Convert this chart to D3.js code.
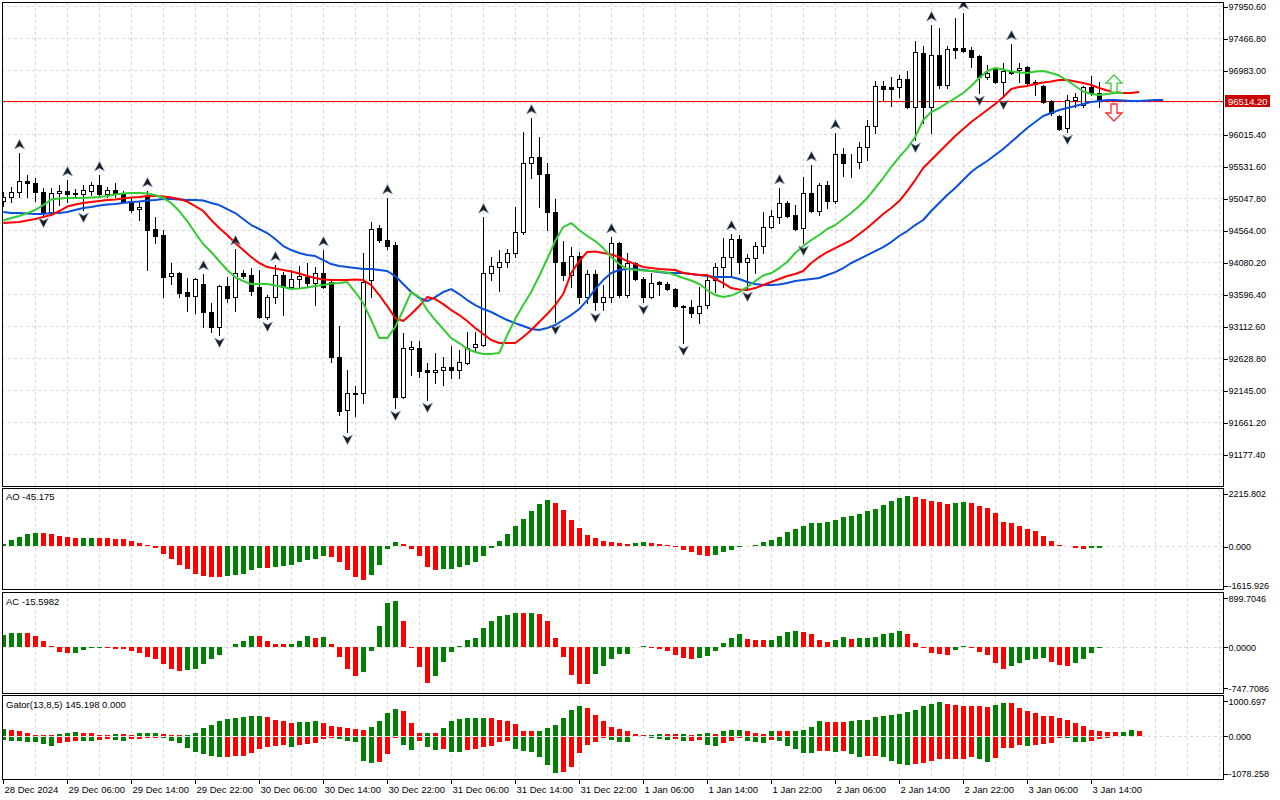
<!DOCTYPE html>
<html>
<head>
<meta charset="utf-8">
<script src="https://cdn.jsdelivr.net/npm/d3@7"></script>
<style>
  html, body { margin: 0; padding: 0; background: #fff; }
  svg { display: block; font-family: "Liberation Sans", Arial, sans-serif; }
</style>
</head>
<body>
<svg id="chart" width="1280" height="800"></svg>
<script>
// H1 candles, 28 Dec 22:00 .. 3 Jan 15:00
const open = [
  95002,95062,95138,95304,95274,95138,94836,95123,95153,95123,
  95108,95153,95244,95108,95168,95123,95002,94881,95093,94579,
  94488,93868,93913,93626,93565,93747,93324,93097,93717,93550,
  93913,93883,93702,93248,93550,93883,93702,93823,93853,93762,
  93913,93777,92643,91842,92084,92099,93807,94594,94412,94337,
  92038,92764,92779,92447,92416,92447,92492,92447,92552,92794,
  92825,93913,94004,94080,94216,94533,95576,95667,95410,94836,
  94080,93883,94170,93550,93898,93475,93550,94367,93581,94065,
  93823,93550,93777,93747,93671,93414,93399,93308,93429,93807,
  94004,94155,94427,94080,94140,94321,94609,94760,94972,94790,
  94594,95123,94851,95244,95002,95713,95592,95592,95818,96136,
  96741,96726,96726,96847,96423,97240,96423,97209,96756,97315,
  97315,97285,97194,96877,97013,96801,96968,96983,97028,96801,
  96741,96514,96287,96106,96529,96453,96726,96635
];
const high = [
  95138,95214,95728,95395,95350,95198,95198,95244,95319,95183,
  95244,95289,95395,95214,95274,95153,95062,94987,95153,94760,
  94563,94065,93928,93838,93838,93898,93460,93732,93853,94276,
  93959,93989,93959,93581,94034,93928,93959,94019,94065,94004,
  94261,93807,93112,92447,92205,94216,94684,94639,95047,94382,
  93006,92885,92885,92552,92704,92643,92809,92749,93021,93021,
  94760,94155,94261,94276,94911,96045,96257,95970,95576,95032,
  94397,94306,94231,93959,93959,93732,94458,94382,94216,94080,
  93853,93913,93792,93777,93686,93429,93505,93702,93853,94065,
  94442,94503,94488,94201,94382,94836,94866,95198,95002,94941,
  95365,95546,95274,95304,96030,95803,95713,95894,96227,96816,
  96816,96877,96907,96968,97421,97346,97663,97618,97346,97769,
  97844,97330,97209,97058,97028,97088,97376,97088,97043,96831,
  96756,96529,96302,96605,96635,96741,96892,96801
];
const low = [
  94926,94987,95062,95062,95002,94790,94820,94941,94987,95047,
  94866,95093,95062,95062,95062,94972,94836,94715,93959,94367,
  93550,93747,93550,93339,93308,93097,93021,92976,93475,93339,
  93838,93581,93233,93218,93460,93278,93686,93686,93702,93429,
  93686,92567,91766,91509,91751,91948,93550,94382,94276,91872,
  92023,92371,92341,91993,92250,92220,92326,92326,92537,92719,
  92809,93807,93641,94004,94155,94503,95350,94911,94563,93172,
  93807,93702,93460,93460,93354,93354,93475,93550,93550,93807,
  93475,93535,93581,93656,93399,92855,93248,93157,93384,93626,
  93702,93883,93913,93671,93913,94216,94594,94669,94760,94563,
  94367,94836,94790,94896,94972,95380,95365,95501,95622,96030,
  96529,96438,96574,96408,95924,96181,96030,96710,96710,97164,
  97255,97028,96635,96847,96786,96574,96922,96801,96756,96605,
  96484,96302,96075,96045,96423,96423,96605,96423
];
const close = [
  95062,95138,95304,95274,95138,94820,95123,95153,95108,95108,
  95168,95244,95108,95168,95123,94987,94866,94911,94563,94473,
  93853,93913,93611,93565,93823,93324,93097,93717,93535,93913,
  93868,93641,93248,93550,93883,93702,93823,93868,93762,93913,
  93702,92643,91827,92099,92099,93777,94579,94412,94321,92038,
  92779,92794,92431,92416,92447,92492,92447,92567,92779,92840,
  93913,94019,94080,94216,94533,95576,95667,95410,94836,94080,
  93883,94170,93550,93898,93475,93550,94367,93581,94065,93823,
  93550,93762,93747,93671,93414,93399,93308,93414,93807,94004,
  94155,94427,94080,94140,94321,94609,94775,94972,94775,94579,
  95123,94851,95244,95002,95713,95576,95590,95818,96136,96741,
  96695,96695,96847,96423,97255,96423,97209,96756,97300,97285,
  97270,97179,96877,96937,96801,96968,96937,97013,96786,96771,
  96499,96332,96091,96529,96574,96726,96635,96514.2
];

// Alligator lines, already shifted forward (jaw +8, teeth +5, lips +3)
const jaw = [
  94836,94820,94820,94813,94805,94805,94820,94820,94836,94866,
  94896,94911,94934,94949,94957,94972,94987,94994,95009,95017,
  95032,95032,95025,95017,95017,95009,94972,94941,94881,94820,
  94730,94639,94579,94518,94427,94321,94261,94216,94185,94170,
  94110,94049,94019,94004,93989,93974,93974,93959,93944,93868,
  93747,93626,93535,93490,93550,93626,93671,93596,93505,93429,
  93369,93324,93263,93203,93157,93112,93067,93051,93082,93127,
  93203,93278,93369,93505,93671,93807,93913,93959,93974,93974,
  93959,93944,93928,93913,93913,93913,93898,93883,93868,93853,
  93853,93853,93823,93777,93747,93732,93732,93739,93762,93792,
  93807,93823,93838,93883,93928,93989,94065,94125,94185,94246,
  94306,94382,94473,94548,94639,94715,94851,94972,95093,95198,
  95319,95440,95531,95607,95697,95788,95894,96000,96106,96196,
  96287,96332,96378,96408,96438,96469,96499,96514,96529,96529,
  96521,96514,96514,96521,96529,96529
];
const teeth = [
  94669,94677,94684,94707,94730,94760,94790,94851,94919,94949,
  94972,94987,95002,95017,95025,95040,95055,95062,95078,95078,
  95070,95055,95032,94994,94926,94851,94715,94594,94488,94367,
  94261,94155,94065,94004,93981,93959,93936,93906,93868,93838,
  93815,93807,93807,93807,93815,93807,93732,93581,93414,93233,
  93188,93293,93414,93550,93520,93444,93354,93278,93188,93082,
  92991,92900,92855,92855,92855,92946,93051,93172,93293,93429,
  93596,93913,94095,94231,94238,94216,94193,94155,94095,94049,
  94004,93989,93974,93966,93959,93913,93898,93883,93883,93823,
  93762,93686,93664,93656,93686,93732,93777,93823,93868,93898,
  93944,94065,94155,94231,94291,94352,94412,94503,94594,94699,
  94805,94896,95002,95153,95319,95501,95622,95743,95864,95985,
  96091,96196,96287,96378,96469,96574,96695,96726,96741,96771,
  96794,96809,96831,96831,96809,96786,96756,96710,96673,96650,
  96635,96635,96650
];
const lips = [
  94707,94745,94775,94820,94866,94941,95025,95040,95047,95047,
  95047,95055,95062,95078,95100,95115,95123,95123,95115,95093,
  95047,94972,94851,94700,94518,94352,94231,94095,93959,93853,
  93792,93747,93747,93747,93724,93702,93671,93679,93694,93717,
  93732,93754,93762,93777,93626,93460,93203,92930,92930,93097,
  93354,93626,93550,93354,93203,93067,92930,92855,92764,92719,
  92689,92689,92704,92976,93218,93429,93626,93868,94125,94397,
  94609,94669,94563,94473,94397,94291,94155,94049,93974,93959,
  93951,93944,93936,93921,93883,93838,93800,93747,93656,93581,
  93550,93573,93626,93702,93792,93876,93913,93989,94080,94216,
  94321,94412,94488,94579,94639,94730,94820,94926,95047,95198,
  95350,95516,95667,95803,95970,96227,96348,96408,96484,96559,
  96635,96741,96862,96968,97013,96990,96960,96945,96937,96960,
  96968,96937,96899,96824,96741,96658,96620,96605,96620,96635,
  96635
];

// Bill Williams fractals (bar indexes)
const fractalUp = [2,8,12,18,25,29,34,40,48,60,66,76,91,97,101,104,116,120,126];
const fractalDown = [5,10,27,33,43,49,53,69,74,80,85,93,100,114,122,125,133];

// signal arrows at the right edge
const signalBar = 139;
const signalBuyPrice = 96650;
const signalSellPrice = 96469;

const bidPrice = 96514.20;

const ao = [
  111,276,412,523,577,575,523,441,383,342,
  345,348,345,342,318,315,235,136,54,-70,
  -301,-507,-754,-919,-1125,-1207,-1277,-1280,-1236,-1166,
  -1125,-960,-894,-900,-865,-812,-783,-659,-548,-507,
  -383,-453,-659,-989,-1277,-1401,-1166,-754,-111,194,
  111,-111,-412,-865,-960,-919,-915,-865,-754,-659,
  -383,-70,235,523,853,1141,1471,1759,1924,1813,
  1512,1100,754,482,342,235,194,136,111,165,
  194,136,111,70,-29,-165,-247,-371,-412,-342,
  -247,-136,-29,41,70,194,276,412,618,729,
  865,960,989,1030,1100,1236,1277,1347,1471,1553,
  1718,1883,2019,2101,2060,1965,1883,1825,1759,1784,
  1842,1784,1689,1578,1372,1030,960,865,729,647,
  441,235,70,29,-54,-95,-60,-45.175
];
const ac = [
  225,256,260,254,201,104,18,-97,-110,-104,
  -49,-18,-12,-16,-31,-33,-73,-110,-183,-225,
  -306,-397,-445,-426,-408,-306,-214,-152,-5,49,
  104,196,194,104,60,49,60,115,196,159,
  177,49,-183,-408,-531,-458,-73,379,811,836,
  470,-18,-366,-659,-531,-275,-92,18,123,165,
  348,470,562,580,628,617,628,598,470,159,
  -183,-518,-683,-685,-500,-353,-225,-134,-123,-5,
  18,-13,-37,-79,-152,-201,-225,-201,-170,-73,
  79,170,232,152,134,132,134,196,269,287,
  269,232,134,86,134,183,141,165,167,183,
  243,262,287,232,79,-24,-110,-123,-141,-49,
  13,-13,-92,-141,-293,-408,-348,-293,-243,-225,
  -201,-275,-335,-348,-293,-225,-110,-15.5982
];
const gatorUpper = [
  192,172,143,77,29,26,9,49,77,114,
  66,63,29,23,49,46,29,77,79,86,
  49,29,9,14,77,220,306,409,478,506,
  543,552,563,523,449,429,363,400,403,406,
  363,286,257,229,200,172,257,429,649,764,
  695,363,77,80,66,220,429,466,506,509,
  512,495,458,409,335,143,134,143,220,315,
  506,744,858,792,592,429,257,192,143,49,
  14,29,49,46,43,46,29,57,63,43,
  143,172,174,123,86,43,143,132,123,126,
  172,257,406,400,398,395,429,458,460,523,
  572,592,629,666,744,858,915,952,907,887,
  858,855,852,809,887,924,921,792,715,638,
  572,552,495,438,352,266,172,123,114,106,
  114,172,145.198
];
const gatorLower = [
  -94,-114,-117,-143,-163,-220,-257,-192,-143,-114,
  -117,-120,-94,-66,-94,-114,-77,-66,-49,-29,
  -49,-123,-192,-315,-449,-506,-566,-572,-569,-566,
  -563,-458,-352,-306,-266,-237,-306,-237,-209,-172,
  -77,-49,-77,-123,-143,-695,-764,-715,-506,-49,
  -237,-380,-123,-306,-380,-363,-449,-452,-380,-363,
  -306,-266,-163,-114,-363,-409,-449,-572,-809,-1050,
  -1001,-858,-478,-237,-143,-49,-94,-143,-157,-14,
  -20,-43,-57,-94,-57,-123,-120,-100,-237,-266,
  -192,-123,-29,-123,-163,-192,-94,-114,-257,-363,
  -458,-460,-400,-398,-429,-400,-495,-572,-543,-541,
  -572,-686,-792,-809,-792,-744,-686,-638,-635,-632,
  -629,-572,-649,-715,-621,-335,-332,-249,-257,-237,
  -220,-192,-49,-51,-143,-163,-123,-66,-29,-9,
  -20,0,0
];

const priceTicks = [97950.60, 97466.80, 96983.00, 96499.20, 96015.40, 95531.60, 95047.80,
  94564.00, 94080.20, 93596.40, 93112.60, 92628.80, 92145.00, 91661.20, 91177.40];
const timeTickBars = [0,8,16,24,32,40,48,56,64,72,80,88,96,104,112,120,128,136];
const timeLabels = ["28 Dec 2024","29 Dec 06:00","29 Dec 14:00","29 Dec 22:00","30 Dec 06:00",
  "30 Dec 14:00","30 Dec 22:00","31 Dec 06:00","31 Dec 14:00","31 Dec 22:00","1 Jan 06:00",
  "1 Jan 14:00","1 Jan 22:00","2 Jan 06:00","2 Jan 14:00","2 Jan 22:00","3 Jan 06:00","3 Jan 14:00"];

// layout
const left = 2, right = 1223;
const panels = {
  main:  { top: 2,   bottom: 486 },
  ao:    { top: 488, bottom: 589 },
  ac:    { top: 592, bottom: 693 },
  gator: { top: 695, bottom: 779 }
};
const green = "#008000", red = "#ff0000";
const gridColor = "#d9d9d9";

const svg = d3.select("#chart");

const x = d3.scaleLinear().domain([0, 152]).range([2.7, 2.7 + 8 * 152]);
const cx = i => Math.round(x(i));

const yMain = d3.scaleLinear().domain([91177.4, 97950.6]).range([454, 6]);
const yAO = d3.scaleLinear().domain([-1615.926, 2215.802]).range([585.5, 493]);
const yAC = d3.scaleLinear().domain([-747.7086, 899.7046]).range([687.7, 597.7]);
const yGator = d3.scaleLinear().domain([-1078.258, 1000.697]).range([773.3, 700.7]);

// clip paths per panel
const defs = svg.append("defs");
Object.entries(panels).forEach(([k, p]) => {
  defs.append("clipPath").attr("id", "clip-" + k)
    .append("rect").attr("x", left).attr("y", p.top)
    .attr("width", right - left).attr("height", p.bottom - p.top);
});

// vertical grid in every panel
const gridBars = d3.range(4, 153, 4);
Object.values(panels).forEach(p => {
  svg.append("g").selectAll("line").data(gridBars).enter().append("line")
    .attr("x1", i => cx(i) + 0.5).attr("x2", i => cx(i) + 0.5)
    .attr("y1", p.top).attr("y2", p.bottom)
    .attr("stroke", gridColor).attr("stroke-dasharray", "3,3")
    .attr("shape-rendering", "crispEdges");
});

// horizontal grid, main panel
svg.append("g").selectAll("line").data(priceTicks).enter().append("line")
  .attr("x1", left).attr("x2", right)
  .attr("y1", d => Math.round(yMain(d)) + 0.5).attr("y2", d => Math.round(yMain(d)) + 0.5)
  .attr("stroke", gridColor).attr("stroke-dasharray", "3,3")
  .attr("shape-rendering", "crispEdges");

// zero lines in the indicator panels
[yAO, yAC, yGator].forEach(s => {
  svg.append("line")
    .attr("x1", left).attr("x2", right)
    .attr("y1", Math.round(s(0)) + 0.5).attr("y2", Math.round(s(0)) + 0.5)
    .attr("stroke", gridColor).attr("stroke-dasharray", "3,3")
    .attr("shape-rendering", "crispEdges");
});

// ---------- main panel ----------
const main = svg.append("g").attr("clip-path", "url(#clip-main)");

// bid line (behind the candles)
main.append("rect")
  .attr("x", left).attr("width", right - left)
  .attr("y", Math.round(yMain(bidPrice))).attr("height", 1)
  .attr("fill", "#ff0000");

const bars = d3.range(open.length);
main.append("g").selectAll("line").data(bars).enter().append("line")
  .attr("x1", i => cx(i) + 0.5).attr("x2", i => cx(i) + 0.5)
  .attr("y1", i => Math.round(yMain(high[i]))).attr("y2", i => Math.round(yMain(low[i])) + 1)
  .attr("stroke", "#000").attr("shape-rendering", "crispEdges");

main.append("g").selectAll("rect").data(bars).enter().append("rect")
  .attr("x", i => cx(i) - 1.5)
  .attr("width", 4)
  .attr("y", i => Math.round(yMain(Math.max(open[i], close[i]))) + 0.5)
  .attr("height", i => Math.max(0, Math.round(Math.abs(yMain(open[i]) - yMain(close[i])))))
  .attr("fill", i => close[i] >= open[i] ? "#fff" : "#000")
  .attr("stroke", "#000").attr("shape-rendering", "crispEdges");

// alligator
const lineOf = s => d3.line().x((d, i) => x(i) + 0.5).y(d => yMain(d))(s);
[[jaw, "#0a50dc"], [teeth, "#ff0000"], [lips, "#33cc33"]].forEach(([s, c]) => {
  main.append("path").attr("d", lineOf(s))
    .attr("fill", "none").attr("stroke", c).attr("stroke-width", 2)
    .attr("stroke-linejoin", "round");
});

// fractals
main.append("g").selectAll("path").data(fractalUp).enter().append("path")
  .attr("d", "M0,-9.5 L5,0 L0,-2.8 L-5,0 Z")
  .attr("transform", i => `translate(${cx(i) + 0.5},${yMain(high[i]) - 4})`)
  .attr("fill", "#1b1b1b").attr("stroke", "#7d9cc4").attr("stroke-width", 0.6);
main.append("g").selectAll("path").data(fractalDown).enter().append("path")
  .attr("d", "M0,9.5 L5,0 L0,2.8 L-5,0 Z")
  .attr("transform", i => `translate(${cx(i) + 0.5},${yMain(low[i]) + 3})`)
  .attr("fill", "#1b1b1b").attr("stroke", "#7d9cc4").attr("stroke-width", 0.6);

// signal arrows
main.append("path")
  .attr("d", "M0,-17 L8,-9 L3,-9 L3,0 L-3,0 L-3,-9 L-8,-9 Z")
  .attr("transform", `translate(${cx(signalBar) - 1},${yMain(signalBuyPrice)})`)
  .attr("fill", "#fff").attr("stroke", "#3cc83c").attr("stroke-width", 1.3);
main.append("path")
  .attr("d", "M0,17 L8,9 L3,9 L3,0 L-3,0 L-3,9 L-8,9 Z")
  .attr("transform", `translate(${cx(signalBar) - 1},${yMain(signalSellPrice)})`)
  .attr("fill", "#fff").attr("stroke", "#ff2a2a").attr("stroke-width", 1.3);

// ---------- histograms ----------
// AO / AC: green when the bar is higher than the previous one
function oscillator(key, values, scale) {
  const g = svg.append("g").attr("clip-path", `url(#clip-${key})`);
  const z = Math.round(scale(0));
  g.selectAll("rect").data(values).enter().append("rect")
    .attr("x", (d, i) => cx(i) - 2)
    .attr("width", 5)
    .attr("y", d => d >= 0 ? Math.round(scale(d)) : z)
    .attr("height", d => Math.abs(Math.round(scale(d)) - z))
    .attr("fill", (d, i) => i === 0 || d > values[i - 1] ? green : red)
    .attr("shape-rendering", "crispEdges");
}
// Gator: green when the bar grows away from zero
function gatorBars(values, scale) {
  const g = svg.append("g").attr("clip-path", "url(#clip-gator)");
  const z = Math.round(scale(0));
  g.selectAll("rect").data(values).enter().append("rect")
    .attr("x", (d, i) => cx(i) - 2)
    .attr("width", 5)
    .attr("y", d => d >= 0 ? Math.round(scale(d)) : z + 1)
    .attr("height", d => Math.abs(Math.round(scale(d)) - z))
    .attr("fill", (d, i) => i === 0 || Math.abs(d) > Math.abs(values[i - 1]) ? green : red)
    .attr("shape-rendering", "crispEdges");
}
oscillator("ao", ao, yAO);
oscillator("ac", ac, yAC);
gatorBars(gatorUpper, yGator);
gatorBars(gatorLower, yGator);

// ---------- frames ----------
Object.values(panels).forEach(p => {
  svg.append("rect")
    .attr("x", left + 0.5).attr("y", p.top + 0.5)
    .attr("width", right - left).attr("height", p.bottom - p.top)
    .attr("fill", "none").attr("stroke", "#000")
    .attr("shape-rendering", "crispEdges");
});

// ---------- axes ----------
function styleAxis(g) {
  g.select(".domain").remove();
  g.selectAll("line").attr("stroke", "#000").attr("shape-rendering", "crispEdges");
  g.selectAll("text").attr("fill", "#000").style("font-size", "9px")
    .style("font-family", '"Liberation Sans", Arial, sans-serif');
}

const priceAxis = d3.axisRight(yMain)
  .tickValues(priceTicks.filter(p => p !== 96499.20))
  .tickSize(4).tickPadding(1)
  .tickFormat(d => d.toFixed(2));
svg.append("g").attr("transform", `translate(${right + 0.5},0.5)`).call(priceAxis).call(styleAxis);

[[yAO, [2215.802, 0, -1615.926], 3], [yAC, [899.7046, 0, -747.7086], 4], [yGator, [1000.697, 0, -1078.258], 3]]
  .forEach(([s, ticks, dec]) => {
    const ax = d3.axisRight(s).tickValues(ticks).tickSize(4).tickPadding(1)
      .tickFormat(d => d.toFixed(dec));
    svg.append("g").attr("transform", `translate(${right + 0.5},0.5)`).call(ax).call(styleAxis);
  });

const timeAxis = d3.axisBottom(x)
  .tickValues(timeTickBars)
  .tickSize(4).tickPadding(3)
  .tickFormat((d, k) => timeLabels[k]);
const tg = svg.append("g").attr("transform", `translate(0.5,${panels.gator.bottom + 0.5})`).call(timeAxis).call(styleAxis);
tg.selectAll(".tick").attr("transform", d => `translate(${cx(d)},0)`);
tg.selectAll("text").attr("text-anchor", "start").attr("x", 1).style("font-size", "9.5px");

// current price label
const by = Math.round(yMain(bidPrice));
svg.append("rect").attr("x", right + 2).attr("y", by - 6).attr("width", 45).attr("height", 12)
  .attr("fill", "#cc0000");
svg.append("text").attr("x", right + 5).attr("y", by + 3.5)
  .attr("fill", "#fff").style("font-size", "9.5px")
  .text(bidPrice.toFixed(2));

// indicator titles
const titles = [
  ["AO " + ao[ao.length - 1].toFixed(3), 500],
  ["AC " + ac[ac.length - 1].toFixed(4), 605],
  ["Gator(13,8,5) " + gatorUpper[gatorUpper.length - 1].toFixed(3) + " " +
    Math.abs(gatorLower[gatorLower.length - 1]).toFixed(3), 708]
];
svg.append("g").selectAll("text").data(titles).enter().append("text")
  .attr("x", 6).attr("y", d => d[1])
  .style("font-size", "9.5px").attr("fill", "#000")
  .text(d => d[0]);
</script>
</body>
</html>
